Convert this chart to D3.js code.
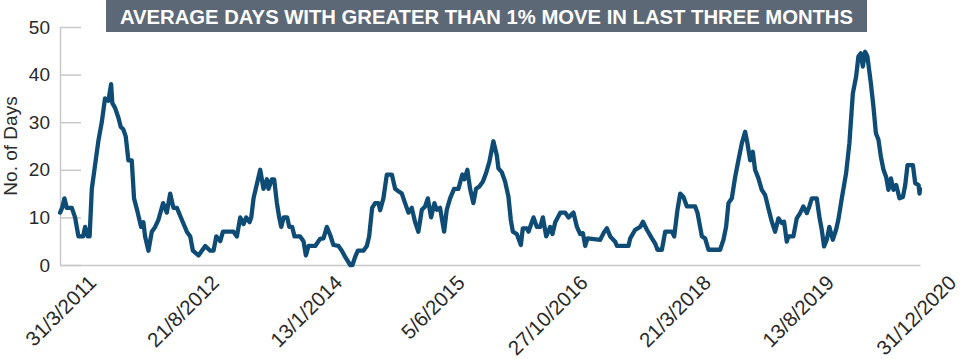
<!DOCTYPE html>
<html>
<head>
<meta charset="utf-8">
<script src="https://cdn.jsdelivr.net/npm/d3@7"></script>
<style>
  html, body { margin: 0; padding: 0; background: #fff; }
  svg { display: block; font-family: "Liberation Sans", Arial, Helvetica, sans-serif; }
</style>
</head>
<body>
<svg id="chart" width="960" height="359"></svg>
<script>
// ---- Data (decimal-year dates and values) ----
const titleText = "AVERAGE DAYS WITH GREATER THAN 1% MOVE IN LAST THREE MONTHS";
const yAxisTitle = "No. of Days";
const yTicks = [0, 10, 20, 30, 40, 50];
const xTickLabels = ["31/3/2011", "21/8/2012", "13/1/2014", "5/6/2015", "27/10/2016", "21/3/2018", "13/8/2019", "31/12/2020"];

const dates = [
  2011.245, 2011.268, 2011.294, 2011.321, 2011.378, 2011.415, 2011.453, 2011.506, 2011.529, 2011.559,
  2011.580, 2011.605, 2011.642, 2011.679, 2011.718, 2011.755, 2011.793, 2011.824, 2011.838, 2011.869,
  2011.906, 2011.934, 2011.963, 2011.990, 2012.020, 2012.058, 2012.084, 2012.126, 2012.164, 2012.190,
  2012.209, 2012.247, 2012.285, 2012.323, 2012.360, 2012.413, 2012.455, 2012.493, 2012.530, 2012.569,
  2012.625, 2012.682, 2012.720, 2012.750, 2012.814, 2012.852, 2012.890, 2012.946, 2012.984, 2013.015,
  2013.060, 2013.091, 2013.136, 2013.211, 2013.249, 2013.287, 2013.324, 2013.355, 2013.392, 2013.412,
  2013.438, 2013.476, 2013.514, 2013.551, 2013.590, 2013.608, 2013.646, 2013.672, 2013.703, 2013.729,
  2013.752, 2013.780, 2013.820, 2013.843, 2013.877, 2013.903, 2013.967, 2014.005, 2014.032, 2014.062,
  2014.138, 2014.194, 2014.232, 2014.270, 2014.308, 2014.345, 2014.402, 2014.440, 2014.478, 2014.535,
  2014.561, 2014.591, 2014.622, 2014.685, 2014.724, 2014.750, 2014.784, 2014.818, 2014.856, 2014.875,
  2014.912, 2014.951, 2015.008, 2015.045, 2015.082, 2015.121, 2015.158, 2015.196, 2015.234, 2015.272,
  2015.309, 2015.348, 2015.385, 2015.416, 2015.453, 2015.491, 2015.518, 2015.555, 2015.601, 2015.631,
  2015.669, 2015.714, 2015.763, 2015.808, 2015.831, 2015.865, 2015.896, 2015.933, 2015.964, 2016.001,
  2016.040, 2016.077, 2016.115, 2016.160, 2016.199, 2016.217, 2016.255, 2016.293, 2016.330, 2016.357,
  2016.380, 2016.425, 2016.471, 2016.493, 2016.539, 2016.557, 2016.614, 2016.652, 2016.690, 2016.720,
  2016.758, 2016.803, 2016.829, 2016.860, 2016.917, 2016.973, 2017.011, 2017.067, 2017.106, 2017.143,
  2017.174, 2017.200, 2017.226, 2017.370, 2017.408, 2017.446, 2017.484, 2017.540, 2017.560, 2017.691,
  2017.711, 2017.767, 2017.824, 2017.855, 2017.900, 2017.957, 2017.994, 2018.020, 2018.070, 2018.108,
  2018.184, 2018.210, 2018.247, 2018.278, 2018.315, 2018.354, 2018.448, 2018.474, 2018.524, 2018.561,
  2018.599, 2018.731, 2018.769, 2018.799, 2018.826, 2018.864, 2018.902, 2018.939, 2018.978, 2019.015,
  2019.041, 2019.072, 2019.102, 2019.128, 2019.166, 2019.204, 2019.242, 2019.279, 2019.318, 2019.355,
  2019.393, 2019.431, 2019.457, 2019.488, 2019.506, 2019.563, 2019.601, 2019.639, 2019.676, 2019.715,
  2019.744, 2019.772, 2019.828, 2019.858, 2019.885, 2019.911, 2019.942, 2019.971, 2020.010, 2020.047,
  2020.073, 2020.112, 2020.161, 2020.198, 2020.237, 2020.274, 2020.300, 2020.327, 2020.350, 2020.376,
  2020.402, 2020.441, 2020.470, 2020.498, 2020.527, 2020.554, 2020.584, 2020.614, 2020.640, 2020.668,
  2020.697, 2020.728, 2020.765, 2020.804, 2020.830, 2020.856, 2020.917, 2020.943, 2020.981, 2020.992,
  2020.998
];
const values = [
  11, 12, 14, 12, 12, 10, 6, 6, 8, 6,
  6, 16, 21, 26, 30, 35, 34.5, 38, 34, 33,
  31, 29, 28.5, 27, 22, 22, 14, 11, 8, 9,
  6, 3, 7, 8, 9.5, 13, 11, 15, 12, 12,
  9.5, 7, 6, 3, 2, 3, 4, 3, 3, 6,
  5, 7, 7, 7, 6, 10, 8.6, 10, 9, 10,
  14, 17, 20, 16, 18, 16, 18, 18, 13, 10,
  8, 10, 10, 8, 8, 6, 6, 5, 2, 4,
  4, 5.5, 5.6, 8, 6.3, 4.2, 4, 3, 1.7, 0,
  0, 1.7, 3, 3, 4, 6, 12, 13, 13, 11.5,
  14, 19, 19, 16, 15.5, 15, 13, 11, 12, 9,
  7, 11.6, 12.3, 14, 10, 13, 11.6, 12, 7, 11.6,
  14, 16, 16, 19, 18, 20, 16, 13, 16, 16.5,
  17.5, 19.3, 21.7, 26, 23, 20.3, 19.5, 17.5, 14.4, 9.5,
  7, 6.5, 4.2, 7.7, 7.7, 7, 10, 8, 8, 10,
  6, 8, 6.5, 9, 11, 11, 10, 11, 8, 6.5,
  6.7, 4, 5.6, 5.3, 6.7, 7.7, 6, 4.9, 4, 4,
  5.6, 7.4, 8, 9.1, 7.4, 5.6, 4.5, 3.2, 3.2, 7,
  7, 6, 11.6, 15, 14.3, 12.3, 12.3, 11, 6, 5.6,
  3.2, 3.2, 5.3, 8, 13, 14, 18.5, 22, 25.6, 28,
  25.6, 22, 23.8, 20, 18.2, 15.8, 14.7, 11.9, 9.1, 7,
  9.8, 8.8, 9.1, 4.9, 6, 6, 9.8, 10.9, 12.3, 10.9,
  12.3, 14, 14, 10.1, 7.4, 3.9, 5.3, 8, 5.3, 7.4,
  9.5, 14, 19.3, 25.6, 36, 39.6, 43.8, 44.5, 41.7, 44.8,
  43.8, 38.2, 33.3, 27.7, 26.3, 22.8, 20, 18.5, 15.8, 18.2,
  15.8, 16.8, 14, 14.3, 16.8, 21, 21, 17.2, 16.8, 15,
  16
];

// ---- Helpers ----
const parseLabel = d3.timeParse("%d/%m/%Y");
function decimalYearToDate(y) {
  const yr = Math.floor(y);
  const start = new Date(yr, 0, 1);
  const end = new Date(yr + 1, 0, 1);
  return new Date(start.getTime() + (y - yr) * (end - start));
}
const series = dates.map((d, i) => ({ date: decimalYearToDate(d), value: values[i] }));
const tickDates = xTickLabels.map(parseLabel);

// ---- Layout ----
const svg = d3.select("#chart");
const plot = { left: 60, right: 920, top: 27, bottom: 265 };

const x = d3.scaleTime()
  .domain([tickDates[0], tickDates[tickDates.length - 1]])
  .range([plot.left, plot.right])
  .clamp(true);
const y = d3.scaleLinear().domain([0, 50]).range([plot.bottom, plot.top]);

// Title banner
const titleG = svg.append("g");
titleG.append("rect")
  .attr("x", 106).attr("y", 0).attr("width", 761).attr("height", 32)
  .attr("fill", "#5d6876");
titleG.append("text")
  .attr("x", 486.5).attr("y", 23.5)
  .attr("text-anchor", "middle")
  .attr("fill", "#ffffff")
  .attr("font-weight", "bold")
  .attr("font-size", 20)
  .attr("textLength", 733)
  .attr("lengthAdjust", "spacingAndGlyphs")
  .text(titleText);

// Y axis
const yAxis = d3.axisLeft(y).tickValues(yTicks).tickSize(-21).tickSizeOuter(0).tickPadding(10);
const yG = svg.append("g").attr("transform", `translate(${plot.left},0)`).call(yAxis);
yG.select(".domain").attr("stroke", "#c8c8c8").attr("stroke-width", 1.5);
yG.selectAll(".tick line").attr("stroke", "#c8c8c8").attr("stroke-width", 1.5);
yG.selectAll(".tick text").attr("font-size", 19).attr("fill", "#2a2a2a")
  .attr("font-family", "'Liberation Sans', Arial, sans-serif");

// Y axis title
svg.append("text")
  .attr("transform", `translate(17, ${(plot.top + plot.bottom) / 2}) rotate(-90)`)
  .attr("text-anchor", "middle")
  .attr("font-size", 19)
  .attr("fill", "#2a2a2a")
  .text(yAxisTitle);

// X axis
const xAxis = d3.axisBottom(x).tickValues(tickDates).tickSize(0).tickSizeOuter(0)
  .tickFormat((d, i) => xTickLabels[i]);
const xG = svg.append("g").attr("transform", `translate(0,${plot.bottom})`).call(xAxis);
xG.select(".domain").attr("stroke", "#c8c8c8").attr("stroke-width", 1.5);
xG.selectAll(".tick text")
  .attr("x", 0).attr("y", 0).attr("dy", 0)
  .attr("text-anchor", "end")
  .attr("transform", "translate(37,19) rotate(-45)")
  .attr("font-size", 20.5)
  .attr("fill", "#2a2a2a")
  .attr("font-family", "'Liberation Sans', Arial, sans-serif");

// Line
const line = d3.line()
  .x(d => x(d.date))
  .y(d => y(d.value));
svg.append("path")
  .datum(series)
  .attr("fill", "none")
  .attr("stroke", "#0e4c76")
  .attr("stroke-width", 4.3)
  .attr("stroke-linejoin", "round")
  .attr("stroke-linecap", "round")
  .attr("d", line);
</script>
</body>
</html>
